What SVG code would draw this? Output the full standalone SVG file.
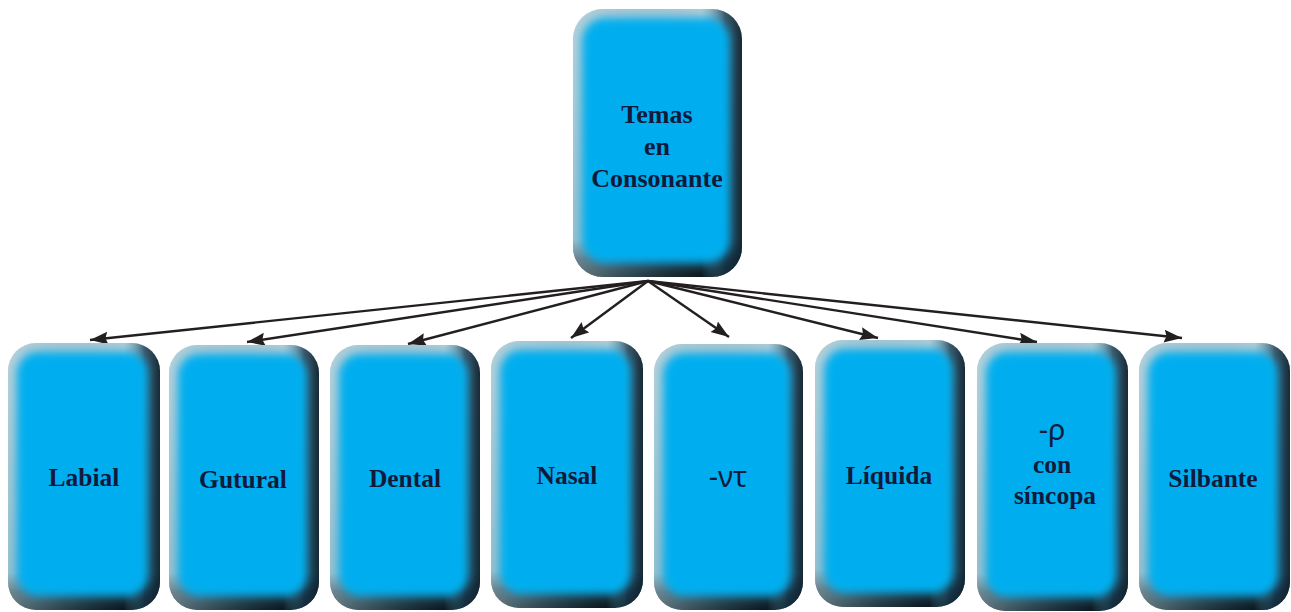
<svg xmlns="http://www.w3.org/2000/svg" width="1291" height="612" viewBox="0 0 1291 612">
<style>
.base{fill:url(#gV)}
.shade{fill:url(#gH)}
.face{fill:#00aeef;filter:url(#soft)}
.lbl{font-family:"Liberation Serif","Times New Roman",serif;font-weight:bold;font-size:25.5px;fill:#0f1a3c;text-anchor:middle}
.top{font-size:26px}
.grk{font-family:"Noto Sans","DejaVu Sans",sans-serif;font-weight:normal;font-size:29px;fill:#0f1a3c;text-anchor:middle}
.conn line{stroke:#231f20;stroke-width:2.4;fill:none;marker-end:url(#arr)}
</style>
<defs>
<linearGradient id="gV" x1="0" y1="0" x2="0" y2="1">
<stop offset="0" stop-color="#aecbd6"/>
<stop offset="0.86" stop-color="#6aa8bf"/>
<stop offset="0.93" stop-color="#1f3a47"/>
<stop offset="1" stop-color="#0d171d"/>
</linearGradient>
<linearGradient id="gH" x1="0" y1="0" x2="1" y2="0">
<stop offset="0" stop-color="#c0d8e0" stop-opacity="0.5"/>
<stop offset="0.76" stop-color="#4d9ab6" stop-opacity="0"/>
<stop offset="0.9" stop-color="#153246" stop-opacity="0.75"/>
<stop offset="1" stop-color="#10222e" stop-opacity="0.95"/>
</linearGradient>
<filter id="soft" x="-20%" y="-20%" width="140%" height="140%">
<feGaussianBlur stdDeviation="4"/>
</filter>
<marker id="arr" markerUnits="userSpaceOnUse" markerWidth="19" markerHeight="14" refX="18" refY="7" orient="auto" viewBox="0 0 19 14">
<path d="M0,0.5 L18,7 L0,13.5 L2.5,7 z" fill="#231f20"/>
</marker>
</defs>

<g id="connectors" class="conn">
<line x1="648" y1="281" x2="90" y2="340"/>
<line x1="648" y1="281" x2="247" y2="342"/>
<line x1="648" y1="281" x2="408" y2="344"/>
<line x1="648" y1="281" x2="571" y2="338"/>
<line x1="648" y1="281" x2="729" y2="337"/>
<line x1="648" y1="281" x2="878" y2="338"/>
<line x1="648" y1="281" x2="1037" y2="342"/>
<line x1="648" y1="281" x2="1182" y2="338"/>
</g>

<g id="n-temas">
<rect class="base" x="573" y="9" width="169" height="268" rx="30"/>
<rect class="shade" x="573" y="9" width="169" height="268" rx="30"/>
<rect class="face" x="582" y="18" width="148" height="245" rx="23"/>
<text class="lbl top" x="657" y="123">Temas</text>
<text class="lbl top" x="657" y="155">en</text>
<text class="lbl top" x="657" y="187">Consonante</text>
</g>

<g id="n-labial">
<rect class="base" x="8" y="343" width="152" height="267" rx="28"/>
<rect class="shade" x="8" y="343" width="152" height="267" rx="28"/>
<rect class="face" x="17" y="352" width="131" height="244" rx="21"/>
<text class="lbl" x="84" y="486">Labial</text>
</g>

<g id="n-gutural">
<rect class="base" x="169" y="345" width="150" height="265" rx="28"/>
<rect class="shade" x="169" y="345" width="150" height="265" rx="28"/>
<rect class="face" x="178" y="354" width="129" height="242" rx="21"/>
<text class="lbl" x="243" y="488">Gutural</text>
</g>

<g id="n-dental">
<rect class="base" x="330" y="345" width="150" height="265" rx="28"/>
<rect class="shade" x="330" y="345" width="150" height="265" rx="28"/>
<rect class="face" x="339" y="354" width="129" height="242" rx="21"/>
<text class="lbl" x="405" y="487">Dental</text>
</g>

<g id="n-nasal">
<rect class="base" x="491" y="341" width="152" height="267" rx="28"/>
<rect class="shade" x="491" y="341" width="152" height="267" rx="28"/>
<rect class="face" x="500" y="350" width="131" height="244" rx="21"/>
<text class="lbl" x="567" y="484">Nasal</text>
</g>

<g id="n-nt">
<rect class="base" x="654" y="344" width="149" height="266" rx="28"/>
<rect class="shade" x="654" y="344" width="149" height="266" rx="28"/>
<rect class="face" x="663" y="353" width="128" height="243" rx="21"/>
<text class="grk" x="728" y="487">-ντ</text>
</g>

<g id="n-liquida">
<rect class="base" x="815" y="340" width="150" height="267" rx="28"/>
<rect class="shade" x="815" y="340" width="150" height="267" rx="28"/>
<rect class="face" x="824" y="349" width="129" height="244" rx="21"/>
<text class="lbl" x="889" y="484">Líquida</text>
</g>

<g id="n-sincopa">
<rect class="base" x="977" y="343" width="151" height="268" rx="28"/>
<rect class="shade" x="977" y="343" width="151" height="268" rx="28"/>
<rect class="face" x="986" y="352" width="130" height="245" rx="21"/>
<text class="grk" x="1052" y="440">-ρ</text>
<text class="lbl" x="1052" y="473">con</text>
<text class="lbl" x="1055" y="504">síncopa</text>
</g>

<g id="n-silbante">
<rect class="base" x="1139" y="343" width="151" height="267" rx="28"/>
<rect class="shade" x="1139" y="343" width="151" height="267" rx="28"/>
<rect class="face" x="1148" y="352" width="130" height="244" rx="21"/>
<text class="lbl" x="1213" y="487">Silbante</text>
</g>
</svg>
